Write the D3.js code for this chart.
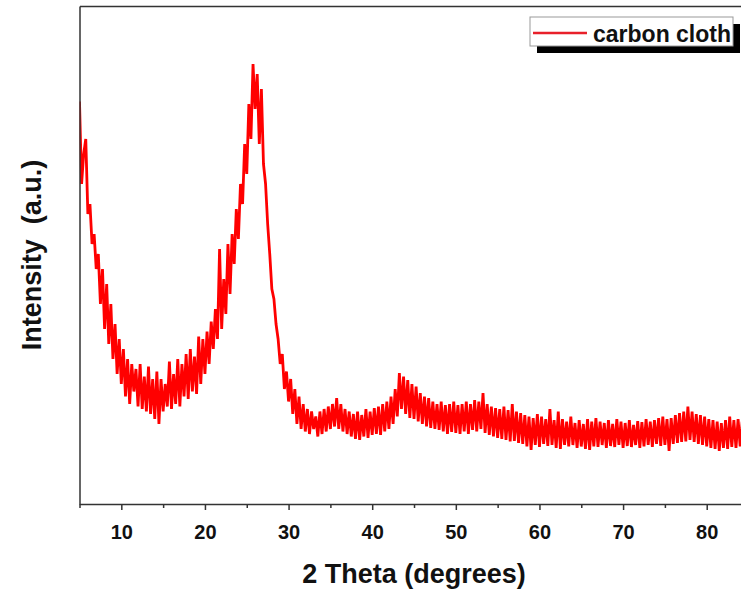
<!DOCTYPE html>
<html>
<head>
<meta charset="utf-8">
<script src="https://cdn.jsdelivr.net/npm/d3@7"></script>
<style>
  html, body { margin: 0; padding: 0; background: #fff; }
  svg { display: block; font-family: "Liberation Sans", Arial, sans-serif; }
</style>
</head>
<body>
<svg id="chart" width="741" height="594"></svg>
<script>
// XRD scan: start angle and step (degrees 2θ)
const scanStart = 5;
const scanStep = 0.25;

// intensities (a.u.), one per step
const intensity = [
  805, 640, 700, 730, 580, 600, 520, 540, 470, // 5.00 - 7.00
  500, 400, 470, 350, 440, 320, 400, 290, 360, 260, 330, 240, // 7.25 - 10.00
  310, 215, 290, 200, 280, 225, 270, 195, 280, 190, 255, 185, 275, 180, 250, 170, 265, 160, // 10.25 - 14.50
  250, 185, 240, 195, 285, 190, 260, 200, 290, 195, 280, 215, 300, 210, 310, 225, 295, 220, 335, 240, // 14.75 - 19.50
  330, 260, 345, 280, 365, 310, 390, 330, 510, 350, // 19.75 - 22.00
  450, 380, 520, 420, 540, 480, 590, 530, 640, 600, 720, 660, // 22.25 - 25.00
  800, 730, 880, 790, 860, 720, 830, 680, // 25.25 - 27.00
  640, 560, 500, 430, 410, 360, 330, 280, 300, 230, 265, 205, // 27.25 - 30.00
  250, 180, 230, 160, 215, 150, 200, 145, 190, 140, 185, 150, 175, 135, 185, // 30.25 - 33.75
  140, 190, 145, 195, 150, 200, 155, 212, 150, 200, 145, 190, 140, 185, 135, 180, 130, 185, 128, 178, 135, 190, 132, 185, 138, // 34.00 - 40.00
  192, 140, 195, 138, 200, 145, 205, 150, 215, 160, 230, 175, 262, 190, 255, 180, 248, 172, // 40.25 - 44.50
  240, 170, 235, 165, 222, 160, 215, 155, 212, 152, 205, 150, 200, 148, 205, 145, 198, 140, 200, 144, 205, 142, 198, 140, // 44.75 - 50.50
  200, 145, 205, 140, 200, 148, 208, 145, 205, 150, 222, 142, 200, 138, 195, 135, 192, 132, 190, 130, 195, 128, 188, 125, 200, 126, 185, 122, 182, // 50.75 - 57.75
  120, 178, 115, 175, 108, 172, 118, 180, 114, 175, 120, 170, 116, 190, 118, 168, 112, 185, 110, 170, 118, 165, 115, 175, 118, 162, 112, 168, 115, 160, 110, 170, 108, 165, 115, 172, 114, 165, // 58.00 - 67.25
  118, 162, 112, 168, 116, 160, 114, 170, 118, 165, 112, 162, 116, 168, 114, 158, 118, 166, 112, 164, 115, 170, 118, 165, 114, 168, 120, 172, 116, 175, 118, 170, 106, 172, 120, 178, 122, 182, 124, // 67.50 - 77.00
  185, 125, 195, 128, 185, 124, 180, 120, 178, 118, 175, 115, 170, 112, 168, 110, 165, 106, 162, 112, 168, 110, 175, 114, 168, 112, 170, 115, 165 // 77.25 - 84.25
];

const majorTicks = [10, 20, 30, 40, 50, 60, 70, 80];
const minorTicks = [5, 15, 25, 35, 45, 55, 65, 75];
const seriesName = "carbon cloth";

function drawChart() {
  const svg = d3.select("#chart");

  // plot area (the right edge of the original figure is cut off)
  const left = 79.5, right = 741, top = 6, bottom = 504;

  const x = d3.scaleLinear().domain([5, 84.1]).range([left, right]);
  const y = d3.scaleLinear().domain([0, 996]).range([bottom, top]);

  const points = intensity.map((v, i) => [scanStart + i * scanStep, v]);

  svg
    .append("defs")
    .append("clipPath")
    .attr("id", "plot-clip")
    .append("rect")
    .attr("x", left)
    .attr("y", top)
    .attr("width", right - left)
    .attr("height", bottom - top);

  // la courbe (trait épais pour rendre la bande de bruit)
  const line = d3
    .line()
    .x((d) => x(d[0]))
    .y((d) => y(d[1]));

  svg
    .append("path")
    .datum(points)
    .attr("clip-path", "url(#plot-clip)")
    .attr("fill", "none")
    .attr("stroke", "#ff0000")
    .attr("stroke-width", 2.8)
    .attr("stroke-linejoin", "bevel")
    .attr("d", line);

  // axes
  const axisColor = "#333";

  const minorAxis = svg
    .append("g")
    .attr("transform", `translate(0,${bottom})`)
    .call(
      d3.axisBottom(x).tickValues(minorTicks).tickSize(4).tickSizeOuter(0).tickFormat("")
    );
  minorAxis.select(".domain").remove();

  const xAxis = svg
    .append("g")
    .attr("transform", `translate(0,${bottom})`)
    .call(
      d3.axisBottom(x).tickValues(majorTicks).tickSize(6).tickSizeOuter(0).tickPadding(15)
    );
  xAxis
    .selectAll("text")
    .attr("fill", "#111")
    .attr("font-size", 20)
    .attr("font-weight", "bold");

  svg
    .append("g")
    .attr("transform", `translate(${left},0)`)
    .call(d3.axisLeft(y).tickValues([]).tickSizeOuter(0));

  svg
    .append("g")
    .attr("transform", `translate(0,${top})`)
    .call(d3.axisTop(x).tickValues([]).tickSizeOuter(0));

  svg
    .selectAll(".domain, .tick line")
    .attr("stroke", axisColor)
    .attr("stroke-width", 1.5);

  // titres des axes
  svg
    .append("text")
    .attr("x", 414)
    .attr("y", 583)
    .attr("text-anchor", "middle")
    .attr("font-size", 27)
    .attr("font-weight", "bold")
    .attr("fill", "#111")
    .text("2 Theta (degrees)");

  svg
    .append("text")
    .attr("transform", "translate(41,255) rotate(-90)")
    .attr("text-anchor", "middle")
    .attr("font-size", 27)
    .attr("font-weight", "bold")
    .attr("fill", "#111")
    .attr("xml:space", "preserve")
    .style("white-space", "pre")
    .text("Intensity  (a.u.)");

  // légende avec ombre
  const legend = svg.append("g").attr("transform", "translate(530,17)");

  legend
    .append("rect")
    .attr("x", 7)
    .attr("y", 7)
    .attr("width", 203)
    .attr("height", 29)
    .attr("fill", "#000");

  legend
    .append("rect")
    .attr("x", 0)
    .attr("y", 0)
    .attr("width", 203)
    .attr("height", 29)
    .attr("fill", "#fff")
    .attr("stroke", "#999")
    .attr("stroke-width", 1);

  legend
    .append("line")
    .attr("x1", 3)
    .attr("x2", 57)
    .attr("y1", 16)
    .attr("y2", 16)
    .attr("stroke", "#e8202a")
    .attr("stroke-width", 2.5);

  legend
    .append("text")
    .attr("x", 63)
    .attr("y", 25)
    .attr("font-size", 23)
    .attr("font-weight", "bold")
    .attr("fill", "#111")
    .text(seriesName);
}

document.addEventListener("DOMContentLoaded", drawChart);
</script>
</body>
</html>
